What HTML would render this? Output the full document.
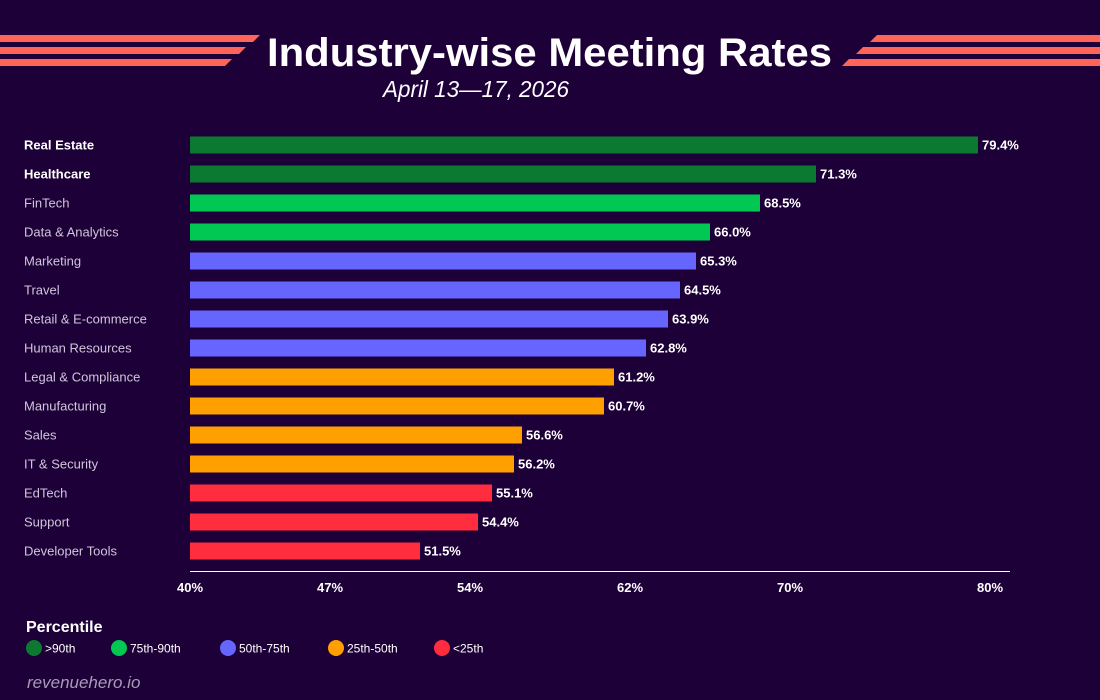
<!DOCTYPE html>
<html><head><meta charset="utf-8"><style>
body{margin:0;background:#1e0038;}
svg{display:block;font-family:"Liberation Sans",sans-serif;}
</style></head><body>
<svg id="c" width="1100" height="700">
<rect width="1100" height="700" fill="#1e0038"/>
<g fill="#ff6458">
<polygon points="0,35 260,35 253,42 0,42"/>
<polygon points="0,47 246,47 239,54 0,54"/>
<polygon points="0,59 232,59 225,66 0,66"/>
</g>
<g fill="#ff6458">
<polygon points="877,35 1100,35 1100,42 870,42"/>
<polygon points="863,47 1100,47 1100,54 856,54"/>
<polygon points="849,59 1100,59 1100,66 842,66"/>
</g>
<text x="267" y="66" textLength="565" lengthAdjust="spacingAndGlyphs" fill="#fff" font-size="40" font-weight="bold">Industry-wise Meeting Rates</text>
<text x="383" y="97" textLength="186" lengthAdjust="spacingAndGlyphs" fill="#fff" font-size="23" font-style="italic">April 13—17, 2026</text>
<line x1="190" x2="1010" y1="571.5" y2="571.5" stroke="#fff" stroke-width="1"/>
<g id="bars"></g>
<g id="ticks"></g>
<text x="26" y="632" fill="#fff" font-size="16" font-weight="bold">Percentile</text>
<g id="legend"></g>
<text x="27" y="688" fill="#a99bb8" font-size="17" font-style="italic">revenuehero.io</text>
</svg>
<script>
const categories=["Real Estate","Healthcare","FinTech","Data & Analytics","Marketing","Travel","Retail & E-commerce","Human Resources","Legal & Compliance","Manufacturing","Sales","IT & Security","EdTech","Support","Developer Tools"];
const values=[79.4,71.3,68.5,66.0,65.3,64.5,63.9,62.8,61.2,60.7,56.6,56.2,55.1,54.4,51.5];
const groups=[0,0,1,1,2,2,2,2,3,3,3,3,4,4,4];
const tickValues=[40,47,54,62,70,80];
const tickLabels=["40%","47%","54%","62%","70%","80%"];
const legendLabels=[">90th","75th-90th","50th-75th","25th-50th","<25th"];
const colors=["#0b7a30","#00c853","#6666ff","#ff9f00","#ff2d3d"];
const NS="http://www.w3.org/2000/svg";
const x=v=>190+(v-40)*20;
const yc=i=>145+i*29;
function mk(t,a,p){const e=document.createElementNS(NS,t);for(const k in a)e.setAttribute(k,a[k]);p.appendChild(e);return e;}
const bars=document.getElementById('bars');
values.forEach((v,i)=>{
 const l=mk('text',{x:24,y:yc(i)+4.5,fill:i<2?'#fff':'#cfc6da','font-size':13,'font-weight':i<2?'bold':'normal'},bars);
 l.textContent=categories[i];
 
 
 const r=mk('rect',{x:x(40),y:yc(i)-8.5,width:x(v)-x(40),height:17,fill:colors[groups[i]]},bars);
 
 
 const t=mk('text',{x:x(v)+4,y:yc(i)+4.5,fill:'#fff','font-size':13,'font-weight':'bold'},bars);
 t.textContent=v.toFixed(1)+'%';
 
 
});
const ticks=document.getElementById('ticks');
tickValues.forEach((v,i)=>{
 const t=mk('text',{x:x(v),y:592,fill:'#fff','font-size':13,'font-weight':'bold','text-anchor':'middle'},ticks);
 t.textContent=tickLabels[i];
 
 
});
const lg=document.getElementById('legend');
const lx=[34,119,228,336,442];
legendLabels.forEach((s,i)=>{
 const c=mk('circle',{cx:lx[i],cy:648,r:8,fill:colors[i]},lg);
 
 
 const t=mk('text',{x:lx[i]+11,y:652.5,fill:'#fff','font-size':12},lg);
 t.textContent=s;
 
 
});
</script>
</body></html>
